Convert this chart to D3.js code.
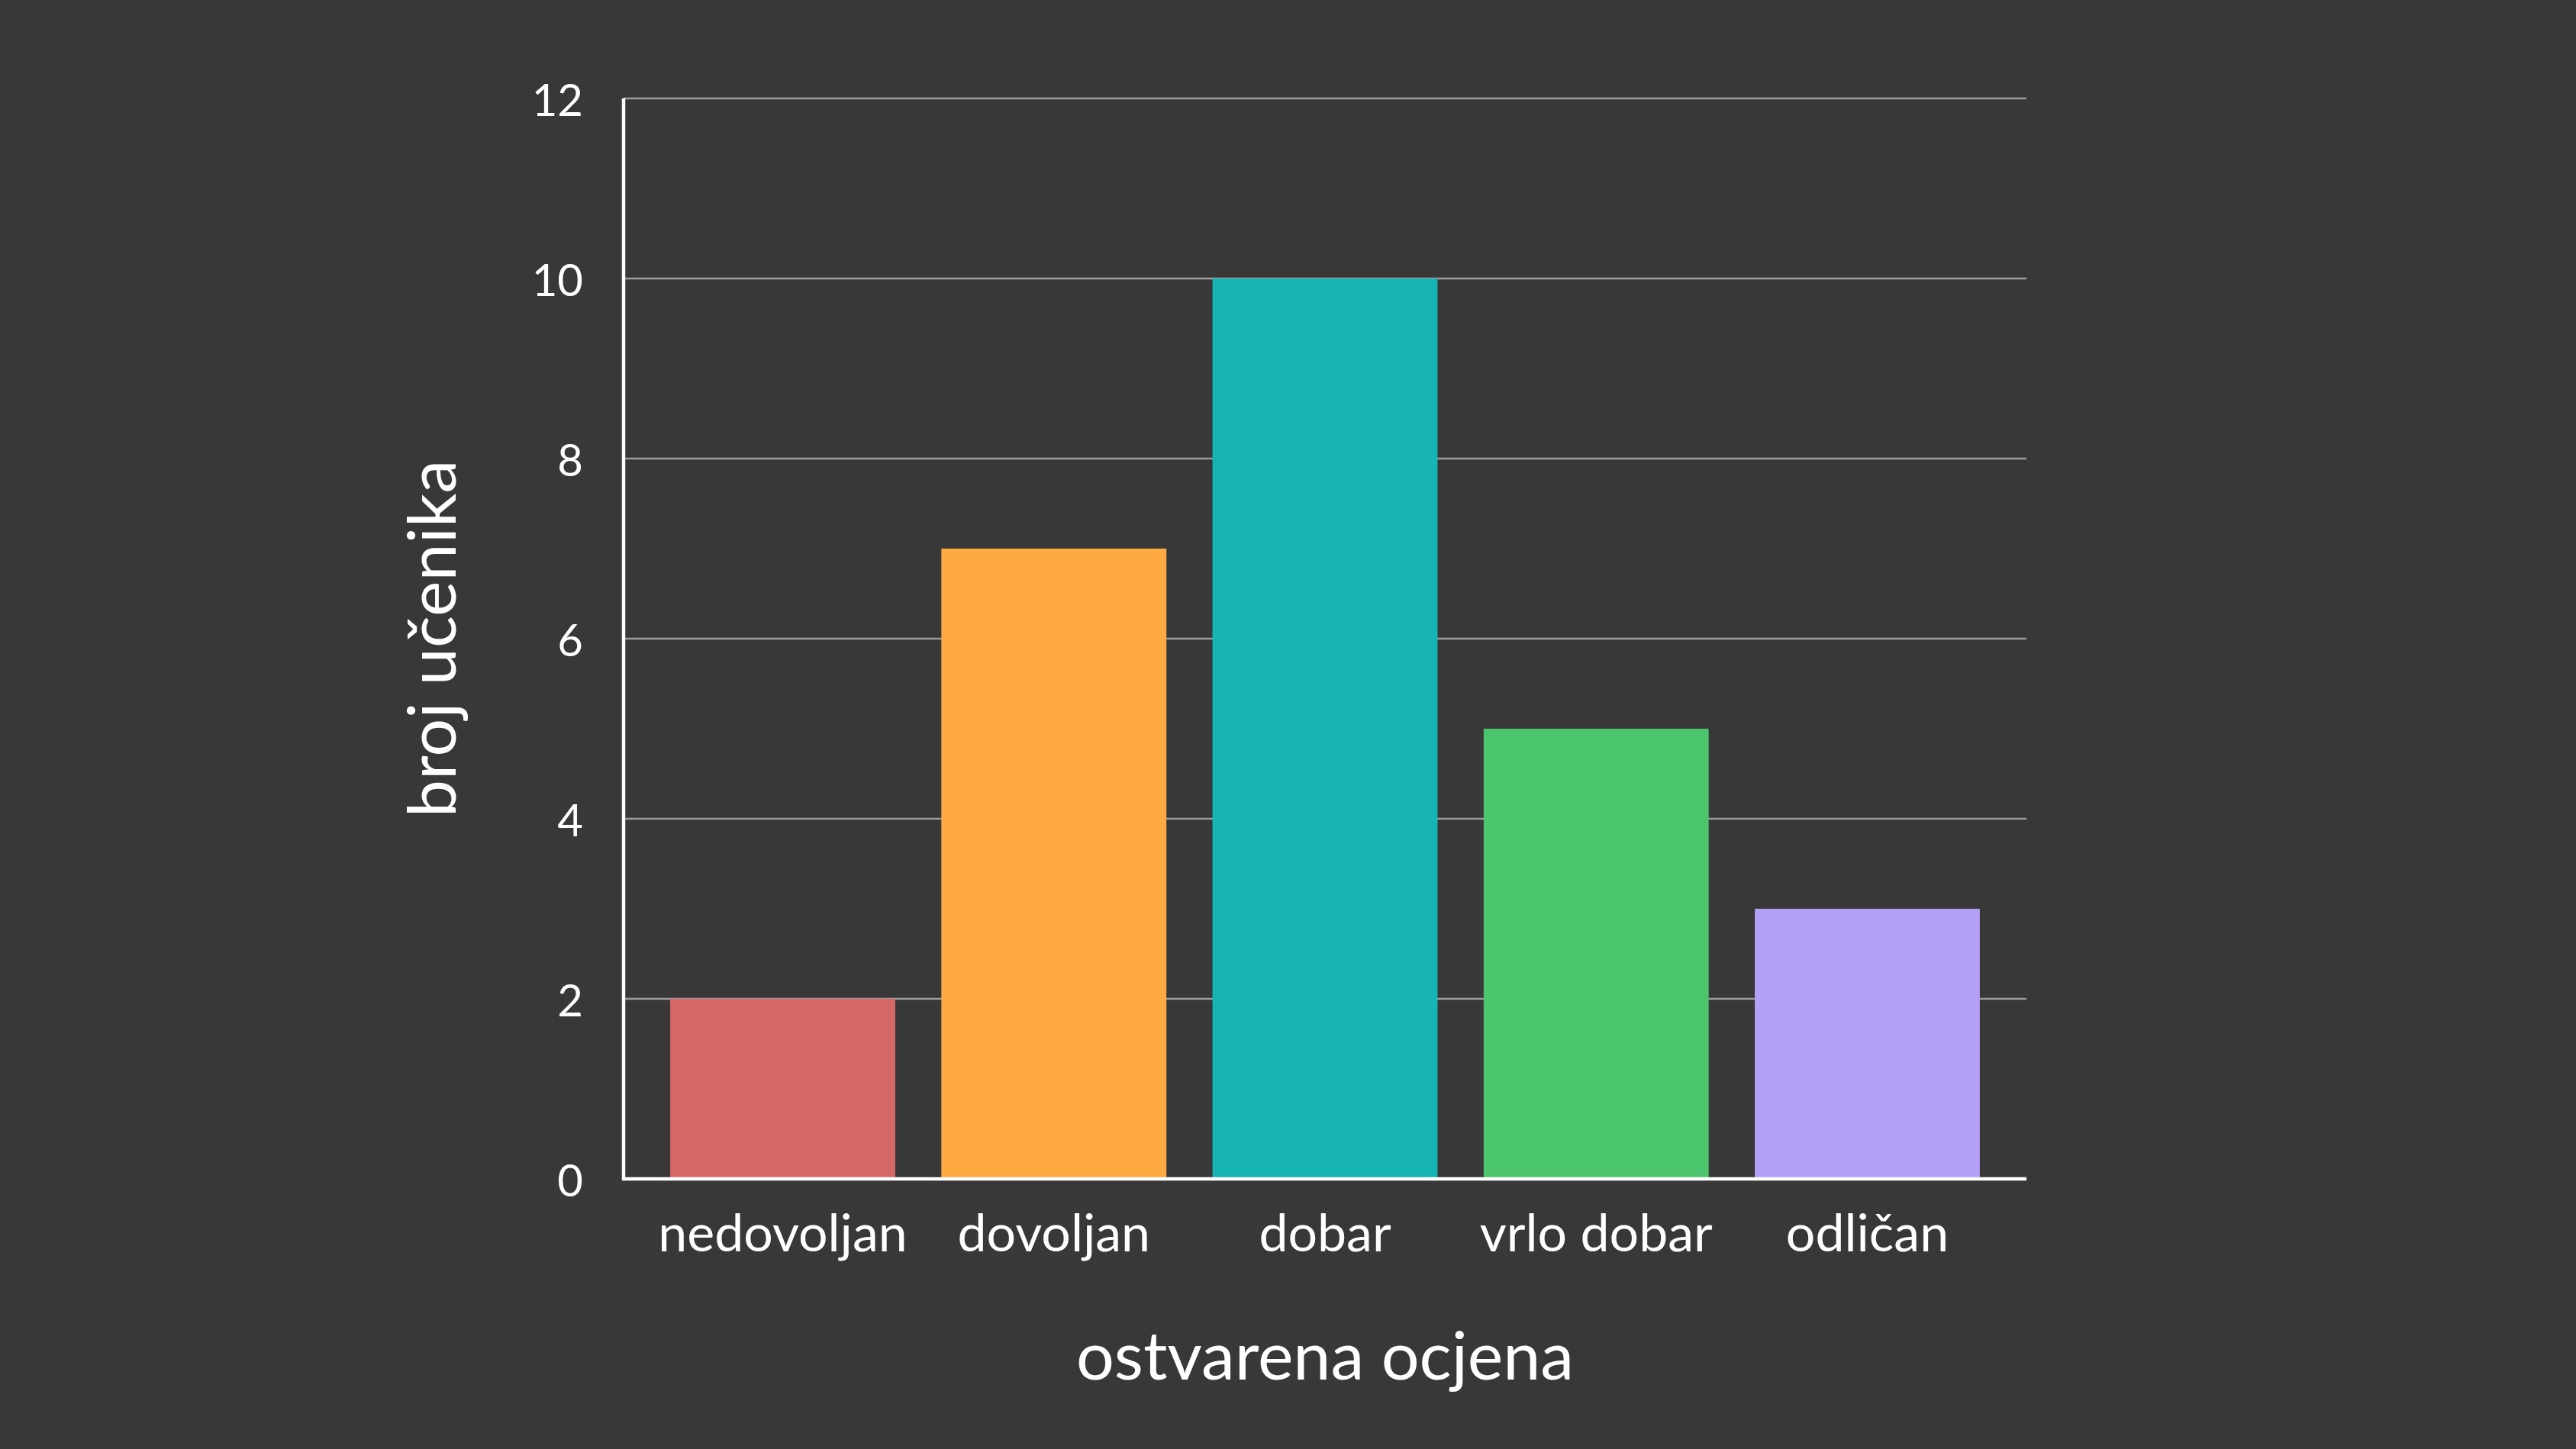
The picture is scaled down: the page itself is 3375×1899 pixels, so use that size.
<!DOCTYPE html>
<html>
<head>
<meta charset="utf-8">
<script src="https://cdn.jsdelivr.net/npm/d3@7"></script>
<style>
  html, body { margin: 0; padding: 0; background: #383838; }
  svg { display: block; }
  text { font-family: Lato, "Open Sans", sans-serif; fill: #ffffff; }
</style>
</head>
<body>
<div id="chart"></div>
<script>
// podaci
const ocjene = ["nedovoljan", "dovoljan", "dobar", "vrlo dobar", "odličan"];
const brojUcenika = [2, 7, 10, 5, 3];
const boje = ["#d76868", "#ffaa40", "#16b4b4", "#4bc66e", "#b4a0f8"];
const yTicks = [0, 2, 4, 6, 8, 10, 12];
const xNaslov = "ostvarena ocjena";
const yNaslov = "broj učenika";

const W = 3375, H = 1899;
const margin = {top: 129, right: 720, bottom: 354, left: 817};
const width = W - margin.left - margin.right;
const height = H - margin.top - margin.bottom;

const svg = d3.select("#chart").append("svg")
    .attr("width", W)
    .attr("height", H);

svg.append("rect")
    .attr("width", W).attr("height", H)
    .attr("fill", "#383838");

const g = svg.append("g")
    .attr("transform", "translate(" + margin.left + "," + margin.top + ")");

const xScale = d3.scaleBand()
    .domain(ocjene)
    .range([0, width])
    .paddingInner(0.17)
    .paddingOuter(0.172);

const yScale = d3.scaleLinear()
    .domain([0, 12])
    .range([height, 0]);

// mreža
g.append("g")
    .attr("class", "grid")
    .selectAll("line")
    .data(yTicks.filter(d => d > 0))
    .join("line")
    .attr("x1", 0)
    .attr("x2", width)
    .attr("y1", d => yScale(d))
    .attr("y2", d => yScale(d))
    .attr("stroke", "#9c9c9c")
    .attr("stroke-width", 2.5);

// stupci
g.selectAll(".bar")
    .data(ocjene.map((o, i) => ({ocjena: o, broj: brojUcenika[i], boja: boje[i]})))
    .join("rect")
    .attr("class", "bar")
    .attr("x", d => xScale(d.ocjena))
    .attr("y", d => yScale(d.broj))
    .attr("width", xScale.bandwidth())
    .attr("height", d => height - yScale(d.broj))
    .attr("fill", d => d.boja);

// y os
const yAxis = g.append("g")
    .call(d3.axisLeft(yScale).tickValues(yTicks).tickSize(0).tickPadding(53));
yAxis.select(".domain").remove();
yAxis.selectAll("text")
    .attr("font-size", 58)
    .attr("font-family", "Lato, sans-serif")
    .attr("fill", "#fff")
    .attr("dy", "0.38em");

// x os
const xAxis = g.append("g")
    .attr("transform", "translate(0," + height + ")")
    .call(d3.axisBottom(xScale).tickSize(0).tickPadding(0));
xAxis.select(".domain").remove();
xAxis.selectAll("text")
    .attr("font-size", 68)
    .attr("font-family", "Lato, sans-serif")
    .attr("fill", "#fff")
    .attr("dy", null)
    .attr("y", 95);

// linije osi
g.append("line")
    .attr("x1", 0).attr("x2", 0)
    .attr("y1", 0).attr("y2", height + 2)
    .attr("stroke", "#fff")
    .attr("stroke-width", 4.5);
g.append("line")
    .attr("x1", -2).attr("x2", width)
    .attr("y1", height).attr("y2", height)
    .attr("stroke", "#fff")
    .attr("stroke-width", 4.5);

// naslovi osi
g.append("text")
    .attr("x", width / 2)
    .attr("y", height + 263)
    .attr("text-anchor", "middle")
    .attr("font-size", 88)
    .text(xNaslov);

svg.append("text")
    .attr("transform", "translate(597," + (margin.top + height / 2) + ") rotate(-90)")
    .attr("text-anchor", "middle")
    .attr("font-size", 88)
    .text(yNaslov);
</script>
</body>
</html>
